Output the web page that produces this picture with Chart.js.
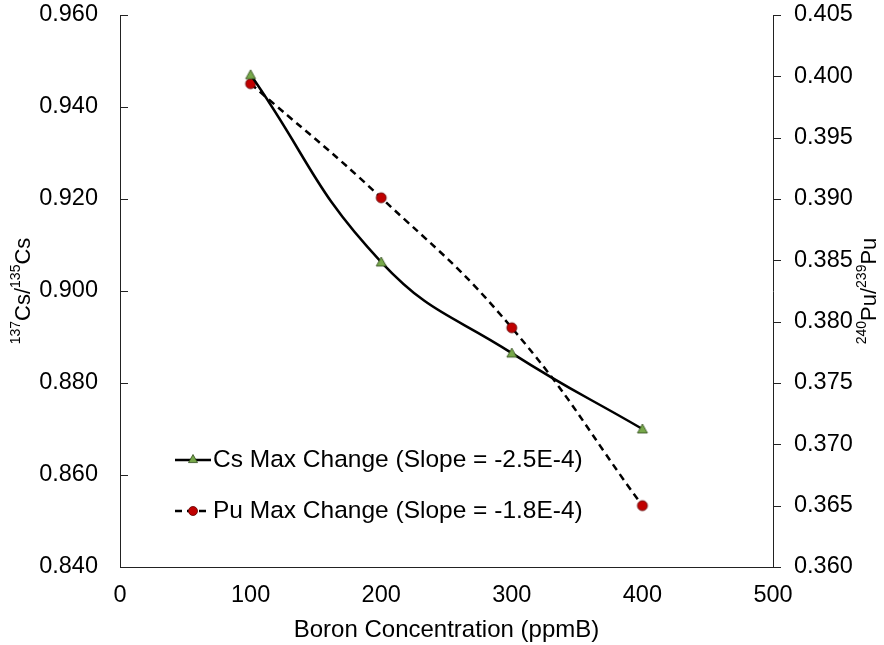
<!DOCTYPE html>
<html>
<head>
<meta charset="utf-8">
<script src="https://cdn.jsdelivr.net/npm/chart.js@4"></script>
<style>
html,body{margin:0;padding:0;background:#fff;}
#wrap{width:884px;height:645px;}
</style>
</head>
<body>
<div id="wrap"><canvas id="c" width="884" height="645"></canvas></div>
<script>
const boron = [100, 200, 300, 400];
const csRatio = [0.947, 0.9063, 0.8865, 0.870];
const puRatio = [0.3994, 0.3901, 0.3795, 0.3650];
const csLabel = 'Cs Max Change (Slope = -2.5E-4)';
const puLabel = 'Pu Max Change (Slope = -1.8E-4)';
const xTitle = 'Boron Concentration (ppmB)';

const FONT = '"Liberation Sans", Arial, sans-serif';
const GREEN = '#77a84a';
const RED = '#c00000';

function drawTriangle(ctx, x, y, r) {
  ctx.beginPath();
  ctx.moveTo(x, y - r);
  ctx.lineTo(x + r, y + r * 0.8);
  ctx.lineTo(x - r, y + r * 0.8);
  ctx.closePath();
  ctx.fillStyle = GREEN; ctx.fill();
  ctx.strokeStyle = '#2f4a1a'; ctx.lineWidth = 0.8; ctx.stroke();
}
function drawCircle(ctx, x, y, r) {
  ctx.beginPath();
  ctx.arc(x, y, r, 0, Math.PI * 2);
  ctx.fillStyle = RED; ctx.fill();
  ctx.strokeStyle = '#5a0000'; ctx.lineWidth = 0.8; ctx.stroke();
}
function drawRotatedSup(ctx, cx, cy, parts, size) {
  ctx.save();
  ctx.translate(cx, cy);
  ctx.rotate(-Math.PI / 2);
  const supSize = Math.round(size * 0.65);
  let total = 0;
  parts.forEach(p => { ctx.font = (p[1] ? supSize : size) + 'px ' + FONT; total += ctx.measureText(p[0]).width; });
  let x = -total / 2;
  ctx.textBaseline = 'middle';
  ctx.textAlign = 'left';
  ctx.fillStyle = '#000';
  parts.forEach(p => {
    ctx.font = (p[1] ? supSize : size) + 'px ' + FONT;
    ctx.fillText(p[0], x, p[1] ? -size * 0.35 : 0);
    x += ctx.measureText(p[0]).width;
  });
  ctx.restore();
}

const customDraw = {
  id: 'customDraw',
  afterDraw(chart) {
    const ctx = chart.ctx;
    const yl = chart.scales.y, yr = chart.scales.y2, xs = chart.scales.x;
    ctx.save();
    ctx.strokeStyle = '#222';
    ctx.lineWidth = 1;
    yl.ticks.forEach(t => {
      const py = Math.round(yl.getPixelForValue(t.value)) + 0.5;
      ctx.beginPath(); ctx.moveTo(yl.right, py); ctx.lineTo(yl.right + 8, py); ctx.stroke();
    });
    yr.ticks.forEach(t => {
      const py = Math.round(yr.getPixelForValue(t.value)) + 0.5;
      ctx.beginPath(); ctx.moveTo(yr.left, py); ctx.lineTo(yr.left + 8, py); ctx.stroke();
    });
    ctx.fillStyle = '#000';
    ctx.font = '24px ' + FONT;
    ctx.textAlign = 'center';
    ctx.textBaseline = 'middle';
    ctx.fillText(xTitle, (xs.left + xs.right) / 2, 630);
    drawRotatedSup(ctx, 24, 291, [['137', true], ['Cs/', false], ['135', true], ['Cs', false]], 22);
    drawRotatedSup(ctx, 870, 291, [['240', true], ['Pu/', false], ['239', true], ['Pu', false]], 22);
    const lx0 = 175, lx1 = 211, ly1 = 460, ly2 = 511;
    ctx.strokeStyle = '#000';
    ctx.lineWidth = 2.5;
    ctx.setLineDash([]);
    ctx.beginPath(); ctx.moveTo(lx0, ly1); ctx.lineTo(lx1, ly1); ctx.stroke();
    drawTriangle(ctx, (lx0 + lx1) / 2, ly1 - 1, 4.5);
    ctx.strokeStyle = '#000';
    ctx.lineWidth = 2.5;
    ctx.setLineDash([7, 5]);
    ctx.beginPath(); ctx.moveTo(lx0, ly2); ctx.lineTo(lx1, ly2); ctx.stroke();
    ctx.setLineDash([]);
    drawCircle(ctx, (lx0 + lx1) / 2, ly2, 4.5);
    ctx.fillStyle = '#000';
    ctx.font = '24.5px ' + FONT;
    ctx.textAlign = 'left';
    ctx.textBaseline = 'middle';
    ctx.fillText(csLabel, 213, ly1);
    ctx.fillText(puLabel, 213, ly2);
    ctx.restore();
  }
};

const triCanvas = (() => {
  const c = document.createElement('canvas'); c.width = 14; c.height = 14;
  drawTriangle(c.getContext('2d'), 7, 7, 5); return c;
})();
const circCanvas = (() => {
  const c = document.createElement('canvas'); c.width = 14; c.height = 14;
  drawCircle(c.getContext('2d'), 7, 7, 5); return c;
})();

new Chart(document.getElementById('c'), {
  type: 'line',
  data: {
    datasets: [
      {
        label: csLabel,
        data: boron.map((b, i) => ({ x: b, y: csRatio[i] })),
        yAxisID: 'y',
        borderColor: '#000',
        borderWidth: 2.5,
        tension: 0.45,
        pointStyle: triCanvas,
        fill: false
      },
      {
        label: puLabel,
        data: boron.map((b, i) => ({ x: b, y: puRatio[i] })),
        yAxisID: 'y2',
        borderColor: '#000',
        borderWidth: 2.5,
        borderDash: [7, 5],
        tension: 0.45,
        pointStyle: circCanvas,
        fill: false
      }
    ]
  },
  options: {
    responsive: false,
    animation: false,
    events: [],
    layout: { padding: { top: 15, left: 0, right: 0, bottom: 0 } },
    plugins: { legend: { display: false }, tooltip: { enabled: false } },
    scales: {
      x: {
        type: 'linear', min: 0, max: 500,
        ticks: { stepSize: 100, color: '#000', font: { family: FONT, size: 23.5 }, padding: 14, maxRotation: 0 },
        grid: { display: true, drawOnChartArea: false, drawTicks: false },
        border: { display: true, color: '#222', width: 1 },
        afterFit(s) { s.height = 78; s.paddingLeft = 0; s.paddingRight = 0; }
      },
      y: {
        type: 'linear', position: 'left', min: 0.84, max: 0.96,
        ticks: { stepSize: 0.02, color: '#000', font: { family: FONT, size: 23.5 }, padding: 22,
          callback: v => v.toFixed(3) },
        grid: { display: true, drawOnChartArea: false, drawTicks: false },
        border: { display: true, color: '#222', width: 1 },
        afterFit(s) { s.width = 120; s.paddingTop = 0; s.paddingBottom = 0; }
      },
      y2: {
        type: 'linear', position: 'right', min: 0.36, max: 0.405,
        ticks: { stepSize: 0.005, color: '#000', font: { family: FONT, size: 23.5 }, padding: 21,
          callback: v => v.toFixed(3) },
        grid: { display: true, drawOnChartArea: false, drawTicks: false },
        border: { display: true, color: '#222', width: 1 },
        afterFit(s) { s.width = 111; s.paddingTop = 0; s.paddingBottom = 0; }
      }
    }
  },
  plugins: [customDraw]
});
</script>
</body>
</html>
